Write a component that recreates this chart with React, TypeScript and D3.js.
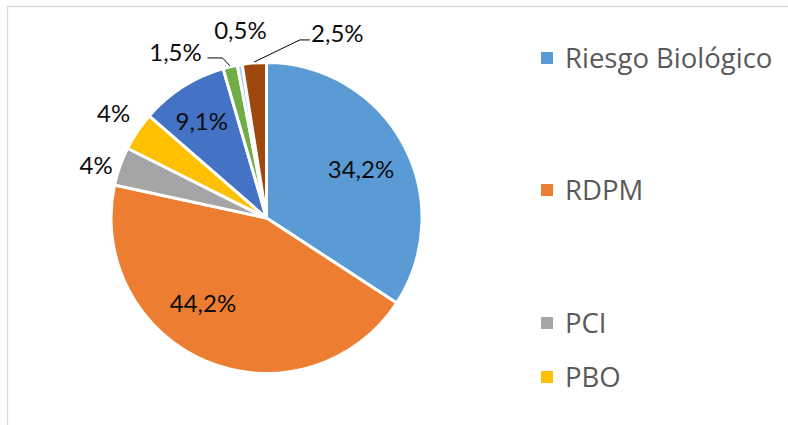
import React, { useEffect, useRef } from 'react'
import { select, pie, arc } from 'd3'

// chart data
const categories = ['Riesgo Biológico', 'RDPM', 'PCI', 'PBO', 'Otro 1', 'Otro 2', 'Otro 3', 'Otro 4']
const values = [34.2, 44.2, 4, 4, 9.1, 1.5, 0.5, 2.5]
const valueLabels = ['34,2%', '44,2%', '4%', '4%', '9,1%', '1,5%', '0,5%', '2,5%']
const legendCount = 4

// styling / layout
const colors = ['#5b9bd5', '#ed7d31', '#a5a5a5', '#ffc000', '#4472c4', '#70ad47', '#a9c9e8', '#9e480e']
const labelAngle = [62.6, 216.6, 287.3, 304.5, 326.3, 331.2, 352.1, 21.0]
const labelRadius = [106.4, 106.5, 178.5, 185.5, 116.7, 188.9, 189.8, 197.7]
const leaderSide = [0, 0, 0, 0, 0, -1, 0, 1] // -1 label left of line, 1 label right
const legendY = [58, 190, 323, 377]

const W = 788, H = 425
const cx = 266.5, cy = 218, R = 155.5
const font = 'Lato, "Open Sans", sans-serif'
const legendFont = '"Open Sans", Lato, sans-serif'

function App() {
  const ref = useRef<SVGSVGElement>(null)

  useEffect(() => {
    const svg = select(ref.current)
    svg.selectAll('*').remove()

    svg.append('rect').attr('width', W).attr('height', H).attr('fill', '#fff')
    svg.append('rect')
      .attr('x', 7.5).attr('y', 6.5)
      .attr('width', W + 20).attr('height', H + 20)
      .attr('fill', 'none').attr('stroke', '#d9d9d9').attr('stroke-width', 1.3)

    const slices = pie<number>().sort(null).value(d => d)(values)
    const arcGen = arc<any>().innerRadius(0).outerRadius(R)

    const g = svg.append('g').attr('transform', `translate(${cx},${cy})`)
    g.selectAll('path.slice')
      .data(slices)
      .join('path')
      .attr('class', 'slice')
      .attr('d', arcGen)
      .attr('fill', (d, i) => colors[i])
      .attr('stroke', '#fff')
      .attr('stroke-width', 3)
      .attr('stroke-linejoin', 'round')

    const polar = (deg: number, r: number) => {
      const a = (deg * Math.PI) / 180
      return [r * Math.sin(a), -r * Math.cos(a)]
    }

    // leader lines
    slices.forEach((s, i) => {
      if (!leaderSide[i]) return
      const mid = ((s.startAngle + s.endAngle) / 2) * 180 / Math.PI
      const end = polar(mid, R + 1)
      const [lx, ly] = polar(labelAngle[i], labelRadius[i])
      const halfW = 24
      const y0 = leaderSide[i] < 0 ? ly + 5.5 : ly + 6.5
      const x0 = leaderSide[i] < 0 ? lx + halfW + 8 : lx - halfW - 3.5
      const x1 = leaderSide[i] < 0 ? x0 + 15 : x0 - 10
      g.append('polyline')
        .attr('points', [[x0, y0], [x1, y0], end].map(p => p.join(',')).join(' '))
        .attr('fill', 'none')
        .attr('stroke', '#000')
        .attr('stroke-width', 1)
    })

    // value labels
    g.selectAll('text.lbl')
      .data(slices)
      .join('text')
      .attr('class', 'lbl')
      .attr('x', (d, i) => polar(labelAngle[i], labelRadius[i])[0])
      .attr('y', (d, i) => polar(labelAngle[i], labelRadius[i])[1] + 8.6)
      .attr('text-anchor', 'middle')
      .attr('font-family', font)
      .attr('font-size', 24)
      .attr('fill', '#0d0d0d')
      .text((d, i) => valueLabels[i])

    // legend
    const leg = svg.append('g')
    categories.slice(0, legendCount).forEach((c, i) => {
      leg.append('rect')
        .attr('x', 541).attr('y', legendY[i] - 6)
        .attr('width', 12).attr('height', 12)
        .attr('fill', colors[i])
      leg.append('text')
        .attr('x', 565).attr('y', legendY[i] + 9.8)
        .attr('font-family', legendFont)
        .attr('font-size', 27.5)
        .attr('fill', '#595959')
        .text(c)
    })
  }, [])

  return (
    <svg ref={ref} width={W} height={H}
      style={{ position: 'absolute', left: 0, top: 0, display: 'block' }} />
  )
}

export default App
